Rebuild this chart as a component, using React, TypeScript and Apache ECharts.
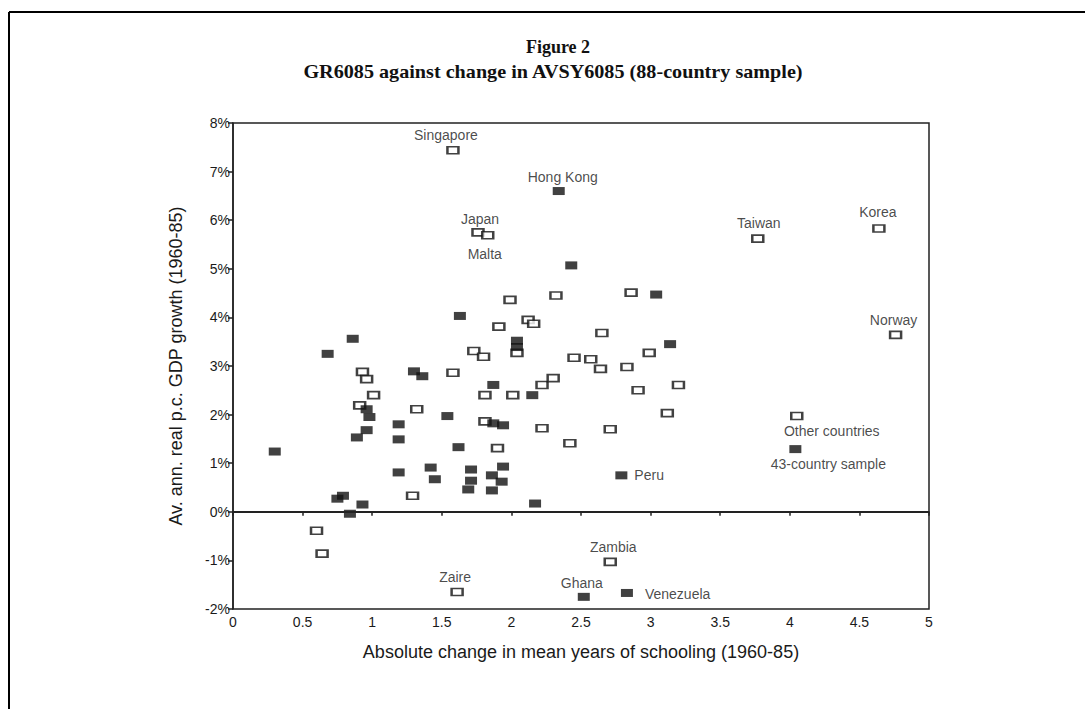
import React, { useEffect, useRef } from "react";
import * as echarts from "echarts";

// Other countries (hollow markers)
const otherX = [1.58, 1.76, 1.83, 3.77, 4.64, 4.76, 1.99, 2.32, 2.86, 1.91, 2.12, 2.16, 1.73, 1.8, 2.04, 2.45, 2.57, 2.64, 2.65, 2.99, 2.83, 2.91, 3.2, 3.12, 2.71, 2.42, 0.93, 0.96, 1.58, 1.01, 0.91, 1.32, 1.81, 2.01, 2.22, 2.3, 1.81, 2.22, 1.9, 1.29, 0.6, 0.64, 1.61, 2.71];
const otherY = [7.44, 5.75, 5.69, 5.62, 5.83, 3.64, 4.36, 4.45, 4.51, 3.81, 3.95, 3.87, 3.31, 3.19, 3.27, 3.17, 3.14, 2.94, 3.68, 3.27, 2.98, 2.5, 2.61, 2.03, 1.7, 1.41, 2.88, 2.73, 2.86, 2.4, 2.19, 2.11, 2.4, 2.4, 2.61, 2.75, 1.86, 1.72, 1.31, 0.33, -0.39, -0.86, -1.65, -1.03];
const otherNames = ["Singapore", "Japan", "Malta", "Taiwan", "Korea", "Norway", "", "", "", "", "", "", "", "", "", "", "", "", "", "", "", "", "", "", "", "", "", "", "", "", "", "", "", "", "", "", "", "", "", "", "", "", "Zaire", "Zambia"];

// 43-country sample (filled markers)
const sampleX = [2.34, 2.43, 1.63, 3.04, 0.86, 0.68, 2.04, 2.04, 3.14, 1.3, 1.36, 0.96, 0.98, 1.54, 0.96, 0.89, 1.19, 1.19, 1.87, 2.15, 1.87, 1.94, 1.62, 1.19, 1.42, 1.45, 1.71, 1.71, 1.69, 1.94, 1.86, 1.93, 1.86, 2.17, 0.79, 0.75, 0.93, 0.84, 0.3, 2.79, 2.52, 2.83];
const sampleY = [6.6, 5.07, 4.03, 4.47, 3.56, 3.25, 3.52, 3.39, 3.45, 2.89, 2.79, 2.11, 1.95, 1.97, 1.68, 1.53, 1.8, 1.49, 2.61, 2.4, 1.82, 1.78, 1.33, 0.81, 0.91, 0.67, 0.87, 0.64, 0.46, 0.93, 0.75, 0.62, 0.44, 0.17, 0.33, 0.27, 0.15, -0.04, 1.24, 0.75, -1.75, -1.67];
const sampleNames = ["Hong Kong", "", "", "", "", "", "", "", "", "", "", "", "", "", "", "", "", "", "", "", "", "", "", "", "", "", "", "", "", "", "", "", "", "", "", "", "", "", "", "Peru", "Ghana", "Venezuela"];

// In-plot key
const keyX = [4.05, 4.04];
const keyY = [1.97, 1.29];
const keyNames = ["Other countries", "43-country sample"];

const titleLine1 = "Figure 2";
const titleLine2 = "GR6085 against change in AVSY6085 (88-country sample)";
const xName = "Absolute change in mean years of schooling (1960-85)";
const yName = "Av. ann. real p.c. GDP growth (1960-85)";

const SANS = "'Liberation Sans', Arial, sans-serif";
const SERIF = "'Liberation Serif', 'Times New Roman', serif";

const labelPlacement: Record<string, any> = {
  Singapore: { position: "top", offset: [-7, 0] },
  "Hong Kong": { position: "top", offset: [4, 1] },
  Japan: { position: "top", offset: [2, 2] },
  Malta: { position: "bottom", offset: [-3, 3] },
  Taiwan: { position: "top", offset: [1, 0] },
  Korea: { position: "top", offset: [-1, -1] },
  Norway: { position: "top", offset: [-2, 0] },
  Zaire: { position: "top", offset: [-2, 0] },
  Zambia: { position: "top", offset: [3, 0] },
  Ghana: { position: "top", offset: [-2, 1] },
  Peru: { position: "right", offset: [3, 0] },
  Venezuela: { position: "right", offset: [8, 1] },
  "Other countries": { position: "bottom", offset: [35, 0] },
  "43-country sample": { position: "bottom", offset: [33, 0] },
};

function buildData(xs: number[], ys: number[], names: string[]) {
  return xs.map((x, i) => {
    const n = names[i];
    const item: any = { value: [x, ys[i]], name: n };
    if (n) {
      const p = labelPlacement[n] || { position: "top" };
      item.label = {
        show: true,
        formatter: n,
        position: p.position,
        offset: p.offset,
        distance: 4,
        color: "#1a1a1a",
        fontFamily: SANS,
        fontSize: 14,
      };
    }
    return item;
  });
}

export default function App() {
  const ref = useRef<HTMLDivElement>(null);
  useEffect(() => {
    if (!ref.current) return;
    const chart = echarts.init(ref.current, undefined, { renderer: "svg" });
    const hollowStyle = { color: "#fff", borderColor: "#111", borderWidth: 2 };
    const filledStyle = { color: "#111", borderColor: "#111", borderWidth: 0 };
    chart.setOption({
      animation: false,
      backgroundColor: "#fff",
      grid: {
        left: 233,
        top: 123,
        right: 156,
        bottom: 100,
        show: true,
        borderColor: "#222",
        borderWidth: 1.5,
        backgroundColor: "transparent",
      },
      xAxis: {
        type: "value",
        min: 0,
        max: 5,
        interval: 0.5,
        name: xName,
        nameLocation: "middle",
        nameGap: 34,
        nameTextStyle: { fontFamily: SANS, fontSize: 18, color: "#1a1a1a" },
        axisLine: { lineStyle: { color: "#222", width: 1.5 } },
        axisTick: { show: true, length: 4, lineStyle: { color: "#222", width: 1.5 } },
        axisLabel: { fontFamily: SANS, fontSize: 14, color: "#1a1a1a", margin: 6 },
        splitLine: { show: false },
      },
      yAxis: {
        type: "value",
        min: -2,
        max: 8,
        interval: 1,
        name: yName,
        nameLocation: "middle",
        nameGap: 48,
        nameTextStyle: { fontFamily: SANS, fontSize: 18, color: "#1a1a1a" },
        axisLine: { lineStyle: { color: "#222", width: 1.5 } },
        axisTick: { show: true, length: 5, lineStyle: { color: "#222", width: 1.5 } },
        axisLabel: { fontFamily: SANS, fontSize: 14, color: "#1a1a1a", margin: 3, formatter: "{value}%" },
        splitLine: { show: false },
      },
      series: [
        {
          type: "scatter",
          name: "Other countries",
          symbol: "rect",
          symbolSize: [11, 7],
          itemStyle: hollowStyle,
          data: buildData(otherX, otherY, otherNames),
          markLine: {
            silent: true,
            symbol: "none",
            label: { show: false },
            lineStyle: { color: "#222", width: 2, type: "solid" },
            data: [{ yAxis: 0 }],
          },
          z: 3,
        },
        {
          type: "scatter",
          name: "43-country sample",
          symbol: "rect",
          symbolSize: [12, 8],
          itemStyle: filledStyle,
          data: buildData(sampleX, sampleY, sampleNames),
          z: 4,
        },
        {
          type: "scatter",
          name: "key",
          symbol: "rect",
          data: keyX.map((x, i) => {
            const d: any = buildData([x], [keyY[i]], [keyNames[i]])[0];
            d.itemStyle = i === 0 ? hollowStyle : filledStyle;
            d.symbolSize = i === 0 ? [11, 7] : [12, 8];
            return d;
          }),
          z: 4,
        },
      ],
      graphic: [
        {
          type: "text",
          x: 558,
          y: 47,
          style: {
            text: titleLine1,
            font: `bold 18px ${SERIF}`,
            fill: "#111",
            textAlign: "center",
            textVerticalAlign: "middle",
          },
        },
        {
          type: "text",
          x: 553,
          y: 72,
          scaleX: 1.12,
          style: {
            text: titleLine2,
            font: `bold 18px ${SERIF}`,
            fill: "#111",
            textAlign: "center",
            textVerticalAlign: "middle",
          },
        },
        {
          type: "line",
          shape: { x1: 9, y1: 12, x2: 9, y2: 709 },
          style: { stroke: "#000", lineWidth: 2 },
        },
        {
          type: "line",
          shape: { x1: 9, y1: 12, x2: 1085, y2: 12 },
          style: { stroke: "#000", lineWidth: 2 },
        },
      ],
    });
    return () => chart.dispose();
  }, []);
  return (
    <div
      ref={ref}
      style={{ position: "fixed", left: 0, top: 0, width: 1085, height: 709, background: "#fff" }}
    />
  );
}
